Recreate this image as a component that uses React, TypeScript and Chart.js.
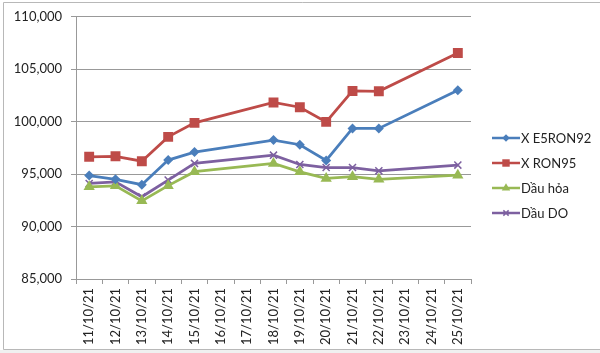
import React, { useEffect, useRef } from "react";
import { Chart, registerables } from "chart.js";

Chart.register(...registerables);

const categories = [
  "11/10/21", "12/10/21", "13/10/21", "14/10/21", "15/10/21", "16/10/21", "17/10/21",
  "18/10/21", "19/10/21", "20/10/21", "21/10/21", "22/10/21", "23/10/21", "24/10/21", "25/10/21",
];

const e5ron92 = [94860, 94500, 93990, 96340, 97100, null, null, 98250, 97800, 96300, 99350, 99350, null, null, 103000];
const ron95 = [96650, 96700, 96230, 98550, 99890, null, null, 101830, 101380, 99980, 102930, 102900, null, null, 106550];
const dauHoa = [93790, 93880, 92450, 93900, 95230, null, null, 96020, 95220, 94590, 94750, 94500, null, null, 94900];
const dauDO = [94110, 94270, 92840, 94430, 96020, null, null, 96810, 95920, 95630, 95630, 95310, null, null, 95860];

const yTicks = [85000, 90000, 95000, 100000, 105000, 110000];

const seriesNames = ["X E5RON92", "X RON95", "Dầu hỏa", "Dầu DO"];
const seriesColors = ["#4A7EBB", "#BE4B48", "#98B954", "#7D60A0"];
const seriesStyles = ["rectRot", "rect", "triangle", "crossRot"];
const seriesRadii = [5, 7, 6.5, 5];

const FONT = "Lato, 'Open Sans', sans-serif";

function drawMarker(ctx: CanvasRenderingContext2D, style: string, x: number, y: number, r: number, color: string) {
  ctx.save();
  ctx.fillStyle = color;
  ctx.strokeStyle = color;
  ctx.lineWidth = 1.5;
  ctx.beginPath();
  if (style === "rect") {
    const s = Math.SQRT1_2 * r;
    ctx.rect(x - s, y - s, 2 * s, 2 * s);
    ctx.fill();
  } else if (style === "rectRot") {
    ctx.moveTo(x, y - r);
    ctx.lineTo(x + r, y);
    ctx.lineTo(x, y + r);
    ctx.lineTo(x - r, y);
    ctx.closePath();
    ctx.fill();
  } else if (style === "triangle") {
    ctx.moveTo(x, y - r);
    ctx.lineTo(x + r * 0.866, y + r * 0.5);
    ctx.lineTo(x - r * 0.866, y + r * 0.5);
    ctx.closePath();
    ctx.fill();
  } else {
    const d = r * Math.SQRT1_2;
    ctx.moveTo(x - d, y - d);
    ctx.lineTo(x + d, y + d);
    ctx.moveTo(x + d, y - d);
    ctx.lineTo(x - d, y + d);
    ctx.stroke();
  }
  ctx.restore();
}

const framePlugin = {
  id: "frame",
  beforeDraw(chart: any) {
    const ctx = chart.ctx as CanvasRenderingContext2D;
    ctx.save();
    ctx.fillStyle = "#ffffff";
    ctx.fillRect(0, 0, chart.width, chart.height);
    ctx.fillStyle = "#f0f0f0";
    ctx.fillRect(0, 350, chart.width, chart.height - 350);
    ctx.strokeStyle = "#b8b8b8";
    ctx.lineWidth = 1;
    ctx.beginPath();
    ctx.moveTo(chart.width + 5, 2.5);
    ctx.lineTo(3.5, 2.5);
    ctx.lineTo(3.5, 349.5);
    ctx.lineTo(chart.width + 5, 349.5);
    ctx.stroke();
    ctx.restore();
  },
  afterDraw(chart: any) {
    const ctx = chart.ctx as CanvasRenderingContext2D;
    ctx.save();
    ctx.font = `13px ${FONT}`;
    ctx.textBaseline = "middle";
    seriesNames.forEach((name, i) => {
      const y = 138 + i * 25;
      ctx.strokeStyle = seriesColors[i];
      ctx.lineWidth = 2.5;
      ctx.beginPath();
      ctx.moveTo(492, y);
      ctx.lineTo(520, y);
      ctx.stroke();
      drawMarker(ctx, seriesStyles[i], 506, y, seriesRadii[i] * 0.75, seriesColors[i]);
      ctx.fillStyle = "#222";
      ctx.fillText(name, 521, y + 0.5);
    });
    ctx.restore();
  },
};

export default function App() {
  const ref = useRef<HTMLCanvasElement | null>(null);
  useEffect(() => {
    document.body.style.margin = "0";
    if (!ref.current) return;
    const dataArrays = [e5ron92, ron95, dauHoa, dauDO];
    const chart = new Chart(ref.current, {
      type: "line",
      data: {
        labels: categories,
        datasets: dataArrays.map((d, i) => ({
          label: seriesNames[i],
          data: d,
          borderColor: seriesColors[i],
          backgroundColor: seriesColors[i],
          pointBackgroundColor: seriesColors[i],
          pointBorderColor: seriesColors[i],
          pointBorderWidth: seriesStyles[i] === "crossRot" ? 1.5 : 0,
          pointStyle: seriesStyles[i] as any,
          pointRadius: seriesRadii[i],
          borderWidth: 2.75,
          tension: 0,
          spanGaps: true,
        })),
      },
      options: {
        animation: false,
        responsive: false,
        maintainAspectRatio: false,
        layout: { padding: { left: 0, right: 129, top: 16, bottom: 0 } },
        plugins: { legend: { display: false }, tooltip: { enabled: false } },
        scales: {
          x: {
            offset: true,
            grid: { display: true, drawOnChartArea: false, drawTicks: true, tickLength: 5, offset: true, color: "#999" },
            border: { display: true, color: "#999" },
            ticks: {
              autoSkip: false,
              maxRotation: 90,
              minRotation: 90,
              padding: 4,
              color: "#222",
              font: { family: FONT, size: 13 },
            },
            afterFit(scale: any) {
              scale.height = 74;
            },
          },
          y: {
            min: yTicks[0],
            max: yTicks[yTicks.length - 1],
            afterBuildTicks(scale: any) {
              scale.ticks = yTicks.map((v) => ({ value: v }));
            },
            grid: { color: "#999", tickLength: 5 },
            border: { display: true, color: "#999" },
            ticks: {
              padding: 9,
              color: "#222",
              font: { family: FONT, size: 13 },
              callback: (v: any) => Number(v).toLocaleString("en-US"),
            },
            afterFit(scale: any) {
              scale.width = 76;
            },
          },
        },
      },
      plugins: [framePlugin],
    });
    return () => chart.destroy();
  }, []);
  return (
    <div style={{ width: 600, height: 353 }}>
      <canvas ref={ref} width={600} height={353} style={{ width: 600, height: 353, display: "block" }} />
    </div>
  );
}
